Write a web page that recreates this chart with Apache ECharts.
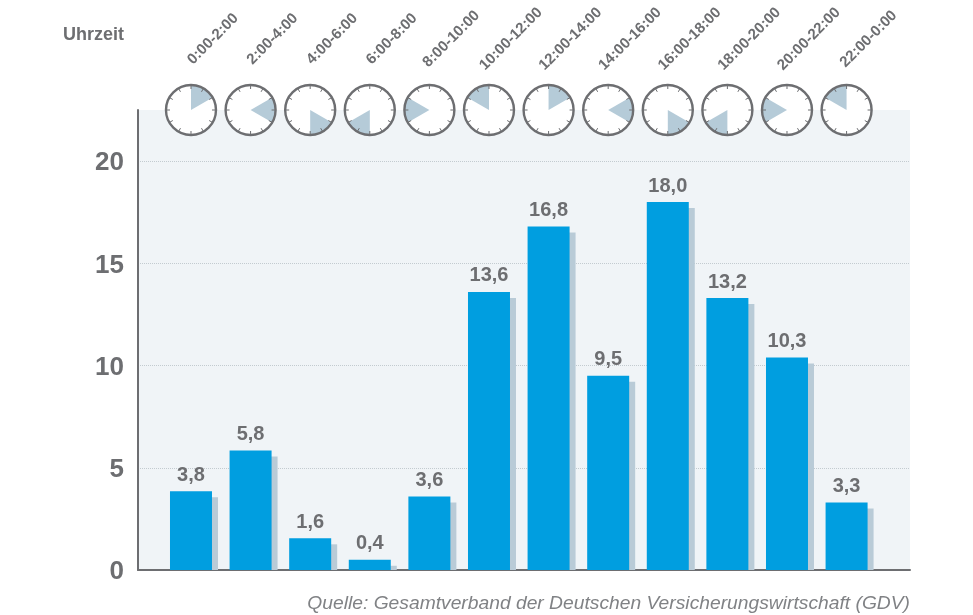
<!DOCTYPE html>
<html><head><meta charset="utf-8">
<style>html,body{margin:0;padding:0;background:#fff}#c{width:973px;height:615px}</style>
<script src="https://cdn.jsdelivr.net/npm/echarts@6/dist/echarts.min.js"></script>
</head><body><div id="c"></div>
<script>
const timeLabels = ['0:00-2:00','2:00-4:00','4:00-6:00','6:00-8:00','8:00-10:00','10:00-12:00','12:00-14:00','14:00-16:00','16:00-18:00','18:00-20:00','20:00-22:00','22:00-0:00'];
const valueLabels = ['3,8','5,8','1,6','0,4','3,6','13,6','16,8','9,5','18,0','13,2','10,3','3,3'];
const barHeights = [3.85,5.85,1.55,0.5,3.6,13.6,16.8,9.5,18.0,13.3,10.4,3.3];
const wedgeStartHours = [0,2,4,6,8,10,0,2,4,6,8,10];
const sourceText = 'Quelle: Gesamtverband der Deutschen Versicherungswirtschaft (GDV)';
const axisHeader = 'Uhrzeit';

const GREY = '#6d6e71', FONT = '"Liberation Sans", Arial, sans-serif';
const chart = echarts.init(document.getElementById('c'), null, {renderer:'canvas'});

function renderShadow(params, api){
  const i = api.value(0), top = api.coord([i, api.value(1)]), base = api.coord([i, 0]);
  const h = Math.max(base[1]-top[1]-6, 0);
  return {type:'rect', shape:{x:top[0], y:base[1]-h, width:27, height:h}, style:{fill:'#b9cbd7'}};
}
function renderClock(params, api){
  const i = api.value(0), c = api.coord([i, api.value(1)]), cx = c[0], cy = c[1], R = 25;
  const start = api.value(2), a0 = (start*30-90)*Math.PI/180, a1 = a0+Math.PI/3;
  const kids = [
    {type:'circle', shape:{cx,cy,r:R}, style:{fill:'#fff', stroke:null}},
    {type:'sector', shape:{cx,cy,r0:0,r:R,startAngle:a0,endAngle:a1,clockwise:true}, style:{fill:'#b5cbd8'}}
  ];
  for(let k=0;k<12;k++){
    const a = k*Math.PI/6;
    kids.push({type:'line', shape:{x1:cx+Math.cos(a)*(R-4), y1:cy+Math.sin(a)*(R-4), x2:cx+Math.cos(a)*R, y2:cy+Math.sin(a)*R}, style:{stroke:GREY, lineWidth:1}});
  }
  kids.push({type:'circle', shape:{cx,cy,r:R}, style:{fill:null, stroke:GREY, lineWidth:2.4}});
  kids.push({type:'text', x:cx+22, y:cy-71, rotation:Math.PI/4, style:{text:timeLabels[params.dataIndex], x:0, y:0, align:'center', verticalAlign:'middle', fill:GREY, font:'bold 15px '+FONT}});
  return {type:'group', children:kids};
}

chart.setOption({
  animation:false,
  grid:{left:138, right:63, top:110, bottom:45, show:true, backgroundColor:'#f0f4f7', borderWidth:0},
  xAxis:{type:'value', min:-0.889, max:12.064, axisLabel:{show:false}, axisTick:{show:false}, splitLine:{show:false},
    axisLine:{show:true, onZero:false, lineStyle:{color:GREY, width:2}}},
  yAxis:{type:'value', min:0, max:22.5, interval:5,
    axisLine:{show:true, onZero:false, lineStyle:{color:GREY, width:2}},
    axisTick:{show:false},
    axisLabel:{showMaxLabel:false, margin:14, verticalAlign:'top', lineHeight:4, color:GREY, fontFamily:FONT, fontWeight:'bold', fontSize:26},
    splitLine:{show:true, showMaxLine:false, showMinLine:false, lineStyle:{color:'#c3cbd0', type:'dotted', width:1}}},
  series:[
    {type:'custom', z:2, clip:false, renderItem:renderShadow, data:barHeights.map((v,i)=>[i,v]), encode:{x:0,y:1}},
    {type:'bar', z:3, barWidth:42, itemStyle:{color:'#009ee0'}, data:barHeights.map((v,i)=>[i,v]),
      label:{show:true, position:'top', distance:6, color:GREY, fontFamily:FONT, fontWeight:'bold', fontSize:20,
        formatter:p=>valueLabels[p.dataIndex]}},
    {type:'custom', z:5, clip:false, renderItem:renderClock, data:wedgeStartHours.map((h,i)=>[i,22.5,h]), encode:{x:0,y:1}}
  ],
  graphic:[
    {type:'text', left:63, top:26, style:{text:axisHeader, fill:GREY, font:'bold 18px '+FONT}},
    {type:'text', right:63, top:594, style:{text:sourceText, fill:'#808285', font:'italic 19.25px '+FONT}}
  ]
});
</script></body></html>
